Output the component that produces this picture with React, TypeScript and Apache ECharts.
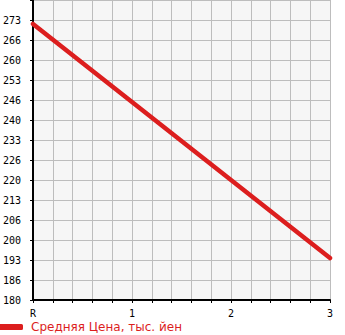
import React, { useEffect, useRef } from "react";
import * as echarts from "echarts";

const xPositions = [0, 1, 2, 3];
const xTickLabels = ["R", "1", "2", "3"];
const priceValues = [272, 246, 220, 194];
const seriesName = "Средняя Цена, тыс. йен";
const yMin = 180;
const yMax = 280;
const yStep = 20 / 3;

export default function App() {
  const ref = useRef<HTMLDivElement>(null);
  useEffect(() => {
    if (!ref.current) return;
    const chart = echarts.init(ref.current, null, { renderer: "svg" });
    const red = "#dc1e1e";
    chart.setOption({
      animation: false,
      grid: {
        left: 31,
        top: 0,
        width: 299,
        height: 300,
        show: true,
        backgroundColor: "#f6f6f6",
        borderWidth: 0,
      },
      legend: {
        left: -3,
        top: 321,
        padding: 0,
        itemWidth: 26,
        itemHeight: 6,
        icon: "roundRect",
        textStyle: {
          color: red,
          fontSize: 12,
          fontFamily: "DejaVu Sans",
          padding: [0, 0, 0, 3],
        },
        data: [{ name: seriesName, itemStyle: { color: red } }],
      },
      xAxis: {
        type: "value",
        min: 0,
        max: 3,
        interval: 0.2,
        axisLine: { show: true, lineStyle: { color: "#000", width: 2 } },
        axisTick: { show: true, length: 3, lineStyle: { color: "#000" } },
        splitLine: { show: true, lineStyle: { color: "#bdbdbd", width: 1 } },
        axisLabel: {
          margin: 8,
          fontSize: 10,
          fontFamily: "DejaVu Sans Mono",
          color: "#000",
          formatter: (v: number) => {
            const i = xPositions.findIndex((p) => Math.abs(p - v) < 1e-6);
            return i >= 0 ? xTickLabels[i] : "";
          },
        },
      },
      yAxis: {
        type: "value",
        min: yMin,
        max: yMax,
        interval: yStep,
        axisLine: { show: true, lineStyle: { color: "#000", width: 2 } },
        axisTick: { show: true, length: 3, lineStyle: { color: "#000" } },
        splitLine: { show: true, lineStyle: { color: "#bdbdbd", width: 1 } },
        axisLabel: {
          margin: 30,
          align: "left",
          verticalAlign: "middle",
          padding: [0, 0, 7, 0],
          fontSize: 10,
          fontFamily: "DejaVu Sans Mono",
          color: "#000",
          formatter: (v: number) =>
            Math.abs(v - yMax) < 1e-6 ? "" : String(Math.floor(v + 1e-6)),
        },
      },
      series: [
        {
          name: seriesName,
          type: "line",
          data: xPositions.map((x, i) => [x, priceValues[i]]),
          showSymbol: false,
          symbol: "none",
          lineStyle: { color: red, width: 4.5, cap: "round" },
          itemStyle: { color: red },
        },
      ],
    });
    return () => chart.dispose();
  }, []);
  return (
    <div
      ref={ref}
      style={{ position: "absolute", left: 0, top: 0, width: 345, height: 335 }}
    />
  );
}
